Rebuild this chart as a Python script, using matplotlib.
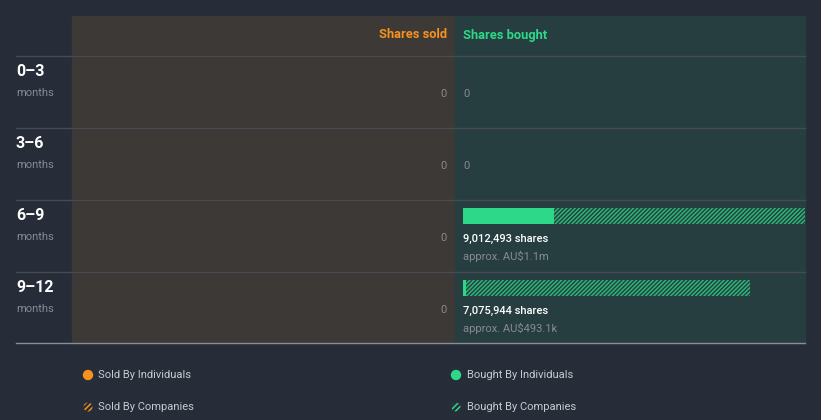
import matplotlib
matplotlib.use("Agg")
import matplotlib.pyplot as plt
from matplotlib.patches import Rectangle, Circle

plt.rcParams['font.family'] = ['Roboto', 'DejaVu Sans']
plt.rcParams['hatch.linewidth'] = 1.1

# ---- data ----
periods = ["0–3", "3–6", "6–9", "9–12"]
sold_individuals = [0, 0, 0, 0]
sold_companies = [0, 0, 0, 0]
bought_individuals = [0, 0, 2240000, 74000]
bought_companies = [0, 0, 6772493, 7001944]
bought_total_labels = ["0", "0", "9,012,493 shares", "7,075,944 shares"]
bought_value_labels = ["", "", "approx. AU$1.1m", "approx. AU$493.1k"]
sold_labels = ["0", "0", "0", "0"]
legend_labels = ["Sold By Individuals", "Sold By Companies",
                 "Bought By Individuals", "Bought By Companies"]

BG = "#262c38"
SOLD_BG = "#3c3936"
BOUGHT_BG = "#263e40"
ORANGE = "#f7921e"
GREEN = "#2ed889"
HATCH_GREEN = "#2bb577"
GRAY = "#878b93"
LINE = "#474c52"
WHITE = "#ffffff"

W, H = 821, 420
fig = plt.figure(figsize=(W / 100, H / 100), dpi=100, facecolor=BG)
ax = fig.add_axes([0, 0, 1, 1])
ax.set_xlim(0, W)
ax.set_ylim(H, 0)
ax.axis("off")

top, bottom = 16, 343
row_top = [56, 128, 200, 272]
sold_x0, mid_x, right_x = 72, 455, 805

ax.add_patch(Rectangle((sold_x0, top), mid_x - sold_x0, bottom - top, color=SOLD_BG, zorder=0))
ax.add_patch(Rectangle((mid_x, top), right_x - mid_x, bottom - top, color=BOUGHT_BG, zorder=0))

for y in row_top:
    ax.plot([16, right_x], [y, y], color=LINE, lw=1, zorder=1)
ax.plot([16, right_x], [bottom, bottom], color="#8a8e94", lw=1, zorder=1)

ax.text(447, 35, "Shares sold", color=ORANGE, fontsize=9.3, fontweight="bold", ha="right", va="center")
ax.text(463, 35, "Shares bought", color=GREEN, fontsize=9.3, fontweight="bold", ha="left", va="center")

for i, p in enumerate(periods):
    y0 = row_top[i]
    ax.text(16, y0 + 16, p, color=WHITE, fontsize=11.5, fontweight="bold", ha="left", va="center")
    ax.text(16, y0 + 37, "months", color=GRAY, fontsize=8, ha="left", va="center")
    ax.text(447, y0 + 38, sold_labels[i], color=GRAY, fontsize=8, ha="right", va="center")
    if bought_individuals[i] + bought_companies[i] == 0:
        ax.text(463, y0 + 38, bought_total_labels[i], color=GRAY, fontsize=8, ha="left", va="center")
    else:
        ax.text(463, y0 + 38.5, bought_total_labels[i], color=WHITE, fontsize=8, fontweight="medium",
                ha="left", va="center")
        ax.text(463, y0 + 56.5, bought_value_labels[i], color=GRAY, fontsize=8, ha="left", va="center")

# bought bars axes (data scale)
bax = fig.add_axes([mid_x / W, 1 - bottom / H, (right_x - mid_x) / W, (bottom - row_top[0]) / H])
bax.set_facecolor("none")
bax.axis("off")
scale = 7075944 / 287.0
bax.set_xlim(-8 * scale, (right_x - mid_x - 8) * scale)
bax.set_ylim(bottom - row_top[0], 0)
for i in range(len(periods)):
    yc = row_top[i] - row_top[0] + 16
    if bought_individuals[i] + bought_companies[i] == 0:
        continue
    bax.barh(yc, bought_individuals[i], height=16, left=0, color=GREEN, align="center", linewidth=0)
    bax.barh(yc, bought_companies[i], height=16, left=bought_individuals[i], color="none",
             edgecolor=HATCH_GREEN, hatch="////////", align="center", linewidth=0)

# legend
def hatch_icon(x, y, color):
    ax.add_patch(Circle((x, y), 4.5, facecolor="none", edgecolor=color,
                        hatch="//////", linewidth=0, zorder=3))

ax.add_patch(Circle((88, 375), 4.5, color=ORANGE, zorder=3))
ax.text(98, 375.5, legend_labels[0], color="#c8cbd0", fontsize=8, ha="left", va="center")
hatch_icon(88, 407, ORANGE)
ax.text(98, 407.5, legend_labels[1], color="#c8cbd0", fontsize=8, ha="left", va="center")
ax.add_patch(Circle((456, 375), 4.5, color=GREEN, zorder=3))
ax.text(467, 375.5, legend_labels[2], color="#c8cbd0", fontsize=8, ha="left", va="center")
hatch_icon(456, 407, GREEN)
ax.text(467, 407.5, legend_labels[3], color="#c8cbd0", fontsize=8, ha="left", va="center")

fig.savefig("out.png", dpi=100, facecolor=BG)
